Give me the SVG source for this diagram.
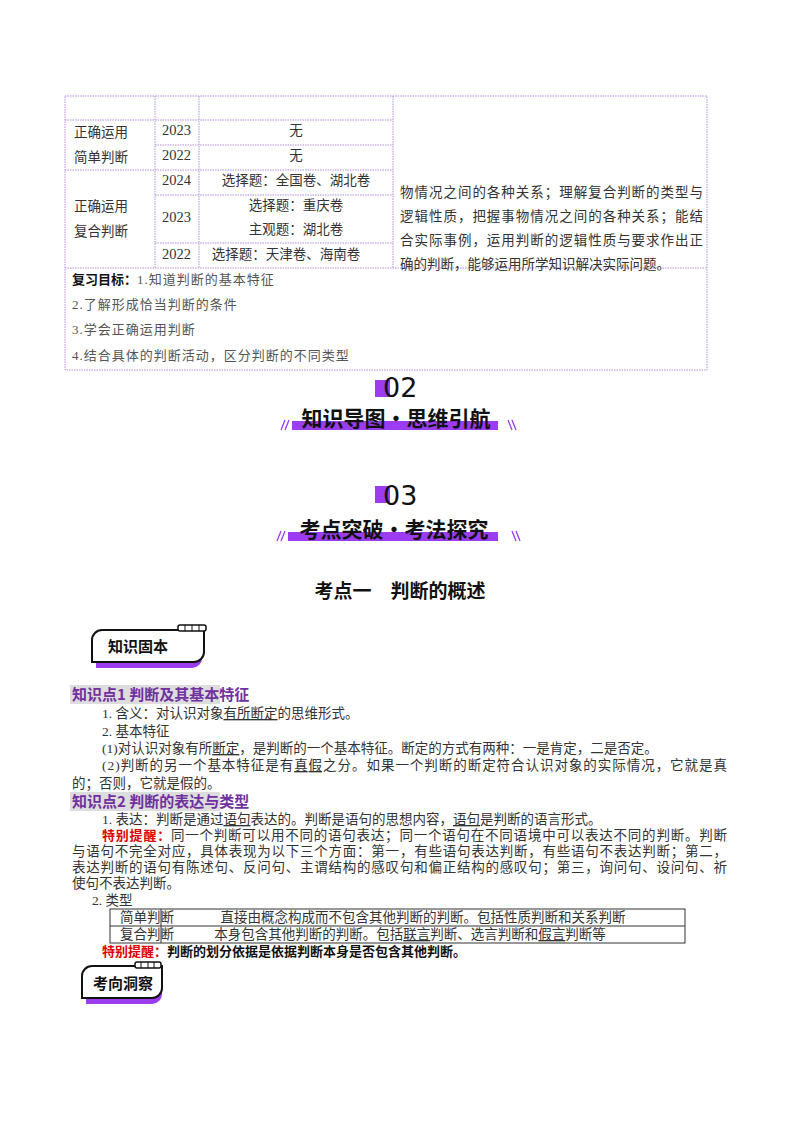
<svg xmlns="http://www.w3.org/2000/svg" width="800" height="1132" viewBox="0 0 800 1132">
<style>
.t{font-family:"Liberation Serif","Noto Sans CJK SC",serif;font-size:13.5px;fill:#333}
.g{font-family:"Liberation Serif","Noto Sans CJK SC",serif;font-size:13px;fill:#555}
.b{font-family:"Noto Sans CJK SC",sans-serif;font-weight:bold;fill:#111}
.h{font-family:"Noto Sans CJK SC",sans-serif;font-weight:bold;font-size:15px;fill:#7030a0}
.r{font-family:"Noto Sans CJK SC",sans-serif;font-weight:bold;font-size:13px;fill:#e00000}
.d{stroke:#b48ee0;stroke-width:1;stroke-dasharray:1.5 1;fill:none}
.p{fill:#9b3cf0}
.num{font-family:"DejaVu Sans",sans-serif;font-size:27px;fill:#111}
.y{font-size:14.5px}
</style>
<rect width="800" height="1132" fill="#fff"/>
<g id="table1">
<rect class="d" x="65" y="96" width="642" height="274"/>
<path class="d" d="M155 96V268M199 96V268M393 96V268M65 120H393M155 145H393M65 170H393M155 195H393M155 243H393M65 268H707"/>
<g class="t">
<text x="74" y="137">正确运用</text><text x="74" y="162">简单判断</text>
<text x="74" y="211">正确运用</text><text x="74" y="236">复合判断</text>
<text x="162" y="135" class="y">2023</text><text x="162" y="160" class="y">2022</text><text x="162" y="185" class="y">2024</text>
<text x="162" y="222" class="y">2023</text><text x="162" y="259" class="y">2022</text>
<text x="296" y="135" text-anchor="middle">无</text><text x="296" y="160" text-anchor="middle">无</text>
<text x="296" y="185" text-anchor="middle">选择题：全国卷、湖北卷</text>
<text x="296" y="210" text-anchor="middle">选择题：重庆卷</text>
<text x="296" y="234" text-anchor="middle">主观题：湖北卷</text>
<text x="286" y="259" text-anchor="middle">选择题：天津卷、海南卷</text>
<text x="400" y="197" textLength="303">物情况之间的各种关系；理解复合判断的类型与</text>
<text x="400" y="221" textLength="303">逻辑性质，把握事物情况之间的各种关系；能结</text>
<text x="400" y="245" textLength="303">合实际事例，运用判断的逻辑性质与要求作出正</text>
<text x="400" y="269">确的判断，能够运用所学知识解决实际问题。</text>
</g>
<text x="72" y="284" class="b" font-size="13">复习目标：<tspan class="g" font-weight="normal" letter-spacing="1">1.知道判断的基本特征</tspan></text>
<text x="72" y="309" class="g" letter-spacing="1">2.了解形成恰当判断的条件</text>
<text x="72" y="334" class="g" letter-spacing="1">3.学会正确运用判断</text>
<text x="72" y="360" class="g" letter-spacing="1">4.结合具体的判断活动，区分判断的不同类型</text>
</g>
<g id="sec02">
<rect class="p" x="375" y="380" width="15" height="17"/>
<text x="383" y="397" class="num">02</text>
<rect class="p" x="292" y="421" width="206" height="9"/>
<text x="396" y="426" class="b" font-size="21" text-anchor="middle">知识导图·思维引航</text>
<path d="M281 430l4-10M285 430l4-10M508 420l4 10M512 420l4 10" stroke="#9b3cf0" stroke-width="1.3"/>
</g>
<g id="sec03">
<rect class="p" x="375" y="486" width="15" height="17"/>
<text x="383" y="505" class="num">03</text>
<rect class="p" x="288" y="532" width="210" height="9"/>
<text x="394" y="537" class="b" font-size="21" text-anchor="middle">考点突破·考法探究</text>
<path d="M277 541l4-10M281 541l4-10M512 531l4 10M516 531l4 10" stroke="#9b3cf0" stroke-width="1.3"/>
</g>
<text x="400" y="598" class="b" font-size="19" text-anchor="middle">考点一　判断的概述</text>
<g id="badge1">
<path d="M96 636h106v22a10 10 0 0 1-10 10H96z" fill="#9b3cf0"/>
<path d="M92 640a10 10 0 0 1 10-10h102v22a10 10 0 0 1-10 10H92z" fill="#fff" stroke="#111" stroke-width="2"/>
<rect x="178" y="625" width="28" height="6" fill="#fff" stroke="#111" stroke-width="1.5" rx="2"/>
<path d="M185 625v6M192 625v6M199 625v6" stroke="#111"/>
<text x="108" y="652" class="b" font-size="15">知识固本</text>
</g>
<g id="kp1">
<rect x="70" y="685" width="150" height="19" fill="#ddd"/>
<text x="72" y="700" class="h">知识点1 判断及其基本特征</text>
<g class="t">
<text x="102" y="718">1. 含义：对认识对象<tspan text-decoration="underline">有所断定</tspan>的思维形式。</text>
<text x="102" y="736">2. 基本特征</text>
<text x="102" y="753">(1)对认识对象有所<tspan text-decoration="underline">断定</tspan>，是判断的一个基本特征。断定的方式有两种：一是肯定，二是否定。</text>
<text x="102" y="770" textLength="625">(2)判断的另一个基本特征是有<tspan text-decoration="underline">真假</tspan>之分。如果一个判断的断定符合认识对象的实际情况，它就是真</text>
<text x="72" y="788">的；否则，它就是假的。</text>
</g>
</g>
<g id="kp2">
<rect x="70" y="792" width="150" height="19" fill="#ddd"/>
<text x="72" y="807" class="h">知识点2 判断的表达与类型</text>
<g class="t">
<text x="102" y="824">1. 表达：判断是通过<tspan text-decoration="underline">语句</tspan>表达的。判断是语句的思想内容，<tspan text-decoration="underline">语句</tspan>是判断的语言形式。</text>
<text x="102" y="840" textLength="625"><tspan class="r">特别提醒：</tspan>同一个判断可以用不同的语句表达；同一个语句在不同语境中可以表达不同的判断。判断</text>
<text x="72" y="856" textLength="655">与语句不完全对应，具体表现为以下三个方面：第一，有些语句表达判断，有些语句不表达判断；第二，</text>
<text x="72" y="872" textLength="655">表达判断的语句有陈述句、反问句、主谓结构的感叹句和偏正结构的感叹句；第三，询问句、设问句、祈</text>
<text x="72" y="888">使句不表达判断。</text>
<text x="92" y="905">2. 类型</text>
</g>
<g id="table2">
<rect x="110" y="909" width="575" height="34" fill="none" stroke="#333"/>
<path d="M161 909V943M110 926H685" stroke="#333"/>
<g class="t">
<text x="120" y="922">简单判断</text><text x="120" y="939">复合判断</text>
<text x="423" y="922" text-anchor="middle">直接由概念构成而不包含其他判断的判断。包括性质判断和关系判断</text>
<text x="410" y="939" text-anchor="middle">本身包含其他判断的判断。包括<tspan text-decoration="underline">联言</tspan>判断、选言判断和<tspan text-decoration="underline">假言</tspan>判断等</text>
</g>
</g>
<text x="102" y="956" class="r">特别提醒：<tspan fill="#111">判断的划分依据是依据判断本身是否包含其他判断。</tspan></text>
</g>
<g id="badge2">
<path d="M86 972h76v22a10 10 0 0 1-10 10H86z" fill="#9b3cf0"/>
<path d="M82 976a10 10 0 0 1 10-10h70v22a10 10 0 0 1-10 10H82z" fill="#fff" stroke="#111" stroke-width="2"/>
<rect x="135" y="962" width="26" height="6" fill="#fff" stroke="#111" stroke-width="1.5" rx="2"/>
<path d="M141 962v6M148 962v6M154 962v6" stroke="#111"/>
<text x="93" y="989" class="b" font-size="15">考向洞察</text>
</g>
</svg>
